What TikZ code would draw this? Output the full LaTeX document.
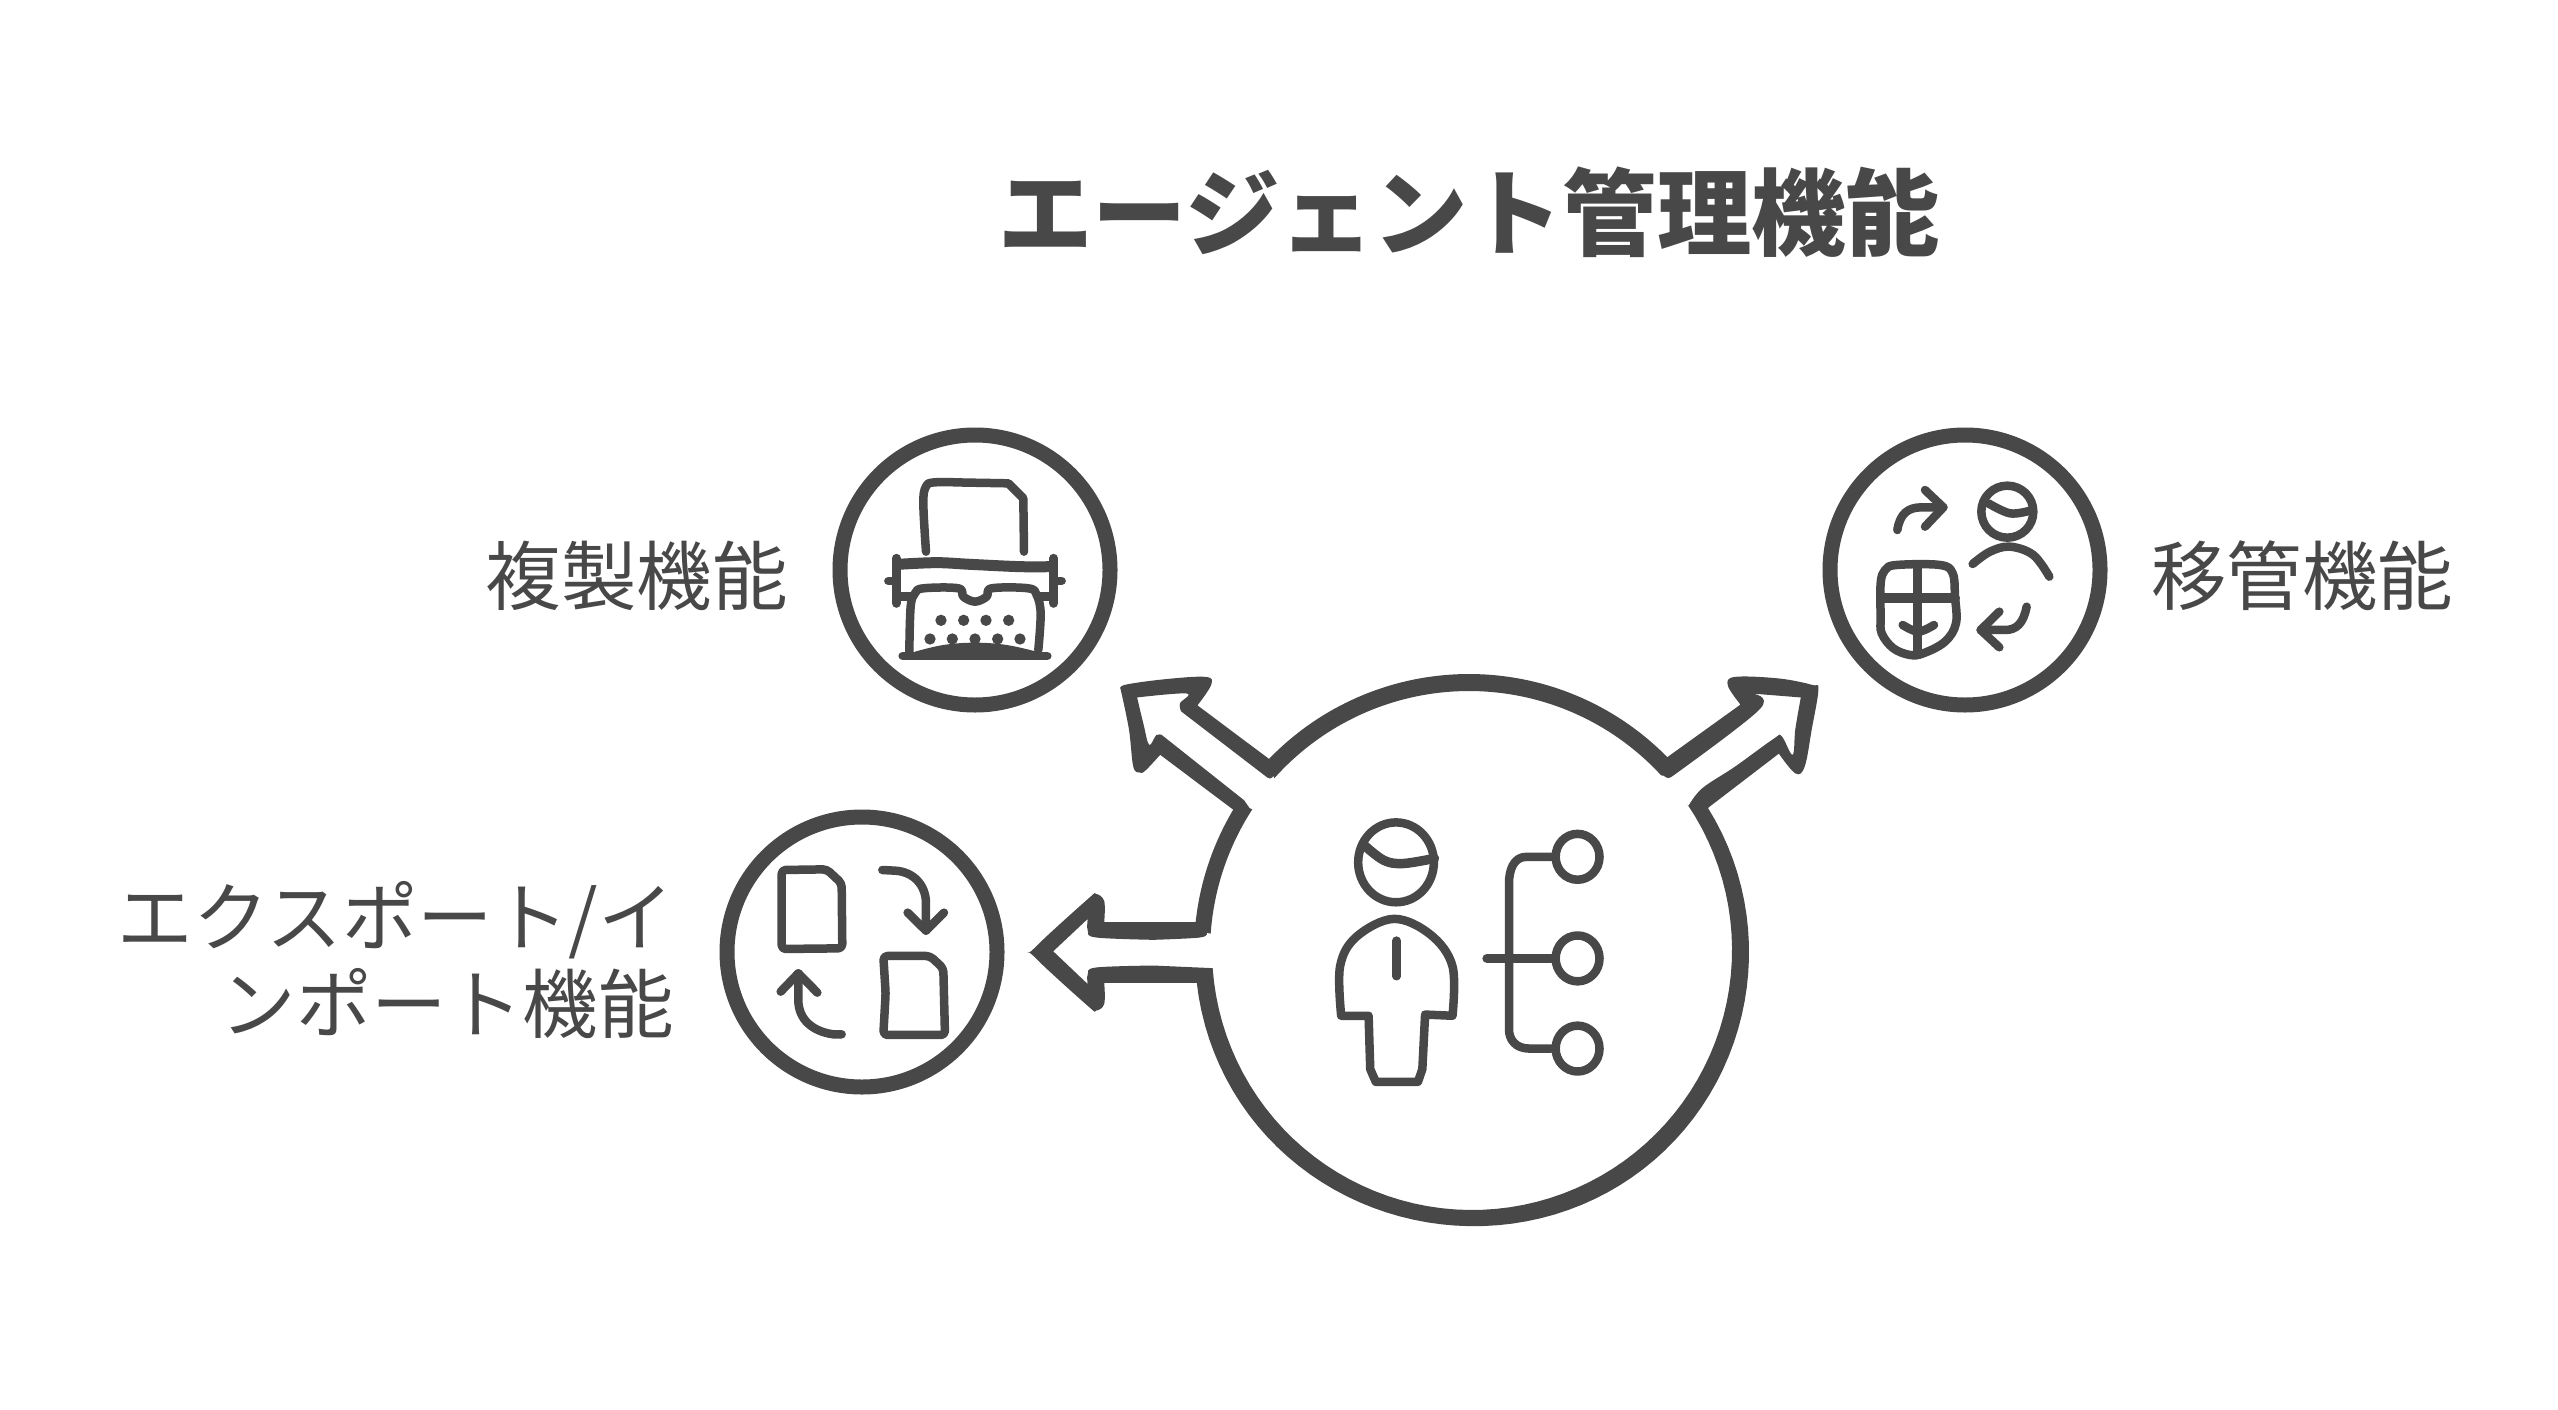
\documentclass[tikz,border=0pt]{standalone}
\usepackage{fontspec}
\setmainfont{Noto Sans CJK JP}
\definecolor{ink}{HTML}{484848}
\tikzset{
 ring/.style={circle,draw=ink,line width=15pt,minimum size=270pt,inner sep=0pt},
 lab/.style={text=ink,font=\fontsize{75.5}{87}\selectfont,inner sep=0pt,align=right},
 ttl/.style={text=ink,font=\fontsize{94.4}{110}\selectfont\bfseries,inner sep=0pt},
 pen/.style={draw=ink,line width=8.5pt,line cap=round,line join=round},
 sm/.style={smooth,tension=0.6},
 arcs/.style={samples=70},
}
\begin{document}
\begin{tikzpicture}[x=1pt,y=-1pt]
\useasboundingbox (0,0) rectangle (2558,1410);
\fill[white] (0,0) rectangle (2558,1410);
\node[ttl,anchor=west] (title) at (998,212) {エージェント管理機能};
\node[ring] (copy) at (975,570) {};
\node[ring] (move) at (1965,570) {};
\node[ring] (port) at (862,952) {};
\node[lab,anchor=east] (copyl) at (788,576) {複製機能};
\node[lab,anchor=west] (movel) at (2151,576) {移管機能};
\node[lab,anchor=east] (portl) at (674,960) {エクスポート/イ\\ンポート機能};

% main body outline with the three arrows
\begin{scope}[shift={(1000,650)},x=0.5485pt,y=-0.3954pt]
\fill[ink,even odd rule]
 plot[sm] coordinates {(220,100)(228,88)(300,74)(375,68)(385,88)(360,140)}
 -- (490,275)
 -- plot[arcs,domain=223.6:315.5] ({(469+278*cos(\x))/0.5485},{(302+278*sin(\x))/0.3954})
 -- (1350,138)
 -- plot[sm] coordinates {(1350,138)(1327,90)(1340,68)(1420,72)(1480,88)(1492,100)(1480,200)(1467,295)(1450,312)(1420,262)}
 -- (1292,398)
 -- plot[arcs,domain=328.6:533.6] ({(472+(277-3*sin(\x-10)*sin(\x-10)*sin(\x-10)*sin(\x-10))*cos(\x))/0.5485},{(302+(277-3*sin(\x-10)*sin(\x-10)*sin(\x-10)*sin(\x-10))*sin(\x))/0.3954})
 -- (190,842)
 -- plot[sm] coordinates {(190,842)(190,895)(175,912)(160,900)(62,775)(62,755)(160,630)(175,617)(190,635)(190,688)}
 -- (353,688)
 -- plot[arcs,domain=186.2:210.8] ({(472+278*cos(\x))/0.5485},{(302+278*sin(\x))/0.3954})
 -- (292,265)
 -- plot[sm] coordinates {(292,265)(265,305)(255,310)(243,295)(235,200)(220,100)}
 -- cycle
 plot[sm] coordinates {(250,120)(340,110)(328,135)(330,155)}
 -- (485,320)
 -- plot[sm] coordinates {(485,320)(492,325)(500,318)}
 -- plot[arcs,domain=221.7:317.4] ({(469+261*cos(\x))/0.5485},{(302+261*sin(\x))/0.3954})
 -- plot[sm] coordinates {(1210,318)(1218,324)(1225,320)}
 -- plot[sm] coordinates {(1225,320)(1385,150)(1370,110)}
 -- (1460,120)
 -- plot[sm] coordinates {(1460,120)(1450,200)(1445,265)(1425,218)(1410,225)(1340,295)(1280,350)(1255,395)}
 -- plot[arcs,domain=326:536] ({(472+260*cos(\x))/0.5485},{(300+260*sin(\x))/0.3954})
 -- (280,798)
 -- plot[sm] coordinates {(280,798)(175,803)(160,820)(160,845)}
 -- (97,762)
 -- (160,680)
 -- plot[sm] coordinates {(160,680)(160,710)(175,727)(280,733)}
 -- plot[sm] coordinates {(280,733)(365,727)(377,715)}
 -- plot[arcs,domain=184:213] ({(472+262*cos(\x))/0.5485},{(302+262*sin(\x))/0.3954})
 -- plot[sm] coordinates {(455,400)(445,380)}
 -- (295,215)
 -- plot[sm] coordinates {(295,215)(285,215)(272,240)(262,190)(250,120)}
 -- cycle;
% person
\draw[pen] (722,537) ellipse [x radius=69,y radius=101];
\draw[pen,line width=9.5pt] plot[sm] coordinates {(665,495)(700,532)(735,540)(792,527)};
\draw[pen] (622,925) -- plot[sm] coordinates {(622,925)(620,800)(650,725)(718,680)(785,720)(825,800)(825,925)}
 -- (775,922) -- (770,1060) -- (762,1092) -- (685,1092) -- (675,1060) -- (672,925) -- cycle;
\draw[pen] (723,735) -- (723,825);
% tree
\draw[pen] (1005,523) -- (960,523) .. controls (935,523) and (928,560) .. (928,590) -- (928,960) .. controls (928,985) and (940,1008) .. (965,1008) -- (1005,1008);
\draw[pen,line width=9.5pt] (888,780) -- (1005,780);
\draw[pen] (1053,523) ellipse [x radius=40,y radius=58];
\draw[pen] (1053,780) ellipse [x radius=40,y radius=58];
\draw[pen] (1053,1008) ellipse [x radius=40,y radius=58];
\end{scope}

% typewriter
\begin{scope}[shift={(820,420)},x=0.3333pt,y=-0.3333pt]
\draw[pen] (318,395) -- plot[sm] coordinates {(318,395)(310,250)(318,200)(345,187)(450,188)(565,190)} -- (610,235) -- (612,395);
\draw[pen,line width=9pt] (229,415) -- (229,550);
\draw[pen,line width=9pt] (701,415) -- (701,550);
\draw[pen] (205,483) -- (225,483);
\draw[pen] (705,483) -- (725,483);
\draw[pen,line width=11pt] plot[sm] coordinates {(235,433)(350,428)(450,433)(600,440)(695,440)};
\draw[pen] (235,530) -- (275,530);
\draw[pen] (655,530) -- (695,530);
\draw[pen] (268,695) -- plot[sm] coordinates {(268,695)(272,560)(285,520)(310,505)(415,505)(430,530)(465,545)(500,530)(515,505)(625,505)(650,525)(662,580)(655,690)};
\fill[ink] plot[sm] coordinates {(285,695)(370,675)(465,668)(560,675)(650,695)} -- (650,710) -- (285,710) -- cycle;
\draw[pen] (248,708) -- (682,708);
\foreach \dx in {363,431,498,566} \fill[ink] (\dx,601) circle [radius=17];
\foreach \dx in {330,397,465,533,600} \fill[ink] (\dx,657) circle [radius=17];
\end{scope}

% person and shield with arrows
\begin{scope}[shift={(1820,420)},x=0.3333pt,y=-0.3333pt]
\draw[pen] (232,330) .. controls (240,280) and (265,262) .. (305,262) -- (370,262);
\draw[pen] (315,210) -- (370,262) -- (315,320);
\draw[pen] (562,275) circle [radius=78];
\draw[pen] plot[sm] coordinates {(505,250)(570,280)(630,272)};
\draw[pen] plot[sm] coordinates {(458,432)(510,395)(570,380)(640,405)(688,470)};
\draw[pen] plot[smooth cycle,tension=0.6] coordinates {(182,490)(195,450)(230,435)(360,435)(398,460)(405,530)(408,610)(375,665)(310,700)(270,705)(220,685)(185,640)(182,590)};
\draw[pen] (293,435) -- (293,695);
\draw[pen,line width=10pt] (185,535) -- (405,535);
\draw[pen] plot[sm] coordinates {(248,615)(295,635)(342,615)};
\draw[pen] (620,560) .. controls (610,610) and (590,630) .. (555,630) -- (482,630);
\draw[pen] (538,575) -- (482,630) -- (538,682);
\end{scope}

% documents with arrows
\begin{scope}[shift={(710,800)},x=0.3333pt,y=-0.3333pt]
\draw[pen,rounded corners=4pt] (215,210) -- (350,208) -- (395,250) -- (397,445) -- (215,447) -- cycle;
\draw[pen,rounded corners=4pt] (520,468) -- (660,468) -- (700,505) -- (705,705) -- (520,705) -- (527,580) -- cycle;
\draw[pen] (517,210) -- (555,212) .. controls (610,215) and (648,255) .. (648,310) -- (648,392);
\draw[pen] (593,338) -- (648,392) -- (702,338);
\draw[pen] (395,703) -- (370,703) .. controls (310,695) and (265,660) .. (265,600) -- (265,520);
\draw[pen] (212,575) -- (265,520) -- (322,578);
\end{scope}
\end{tikzpicture}
\end{document}
